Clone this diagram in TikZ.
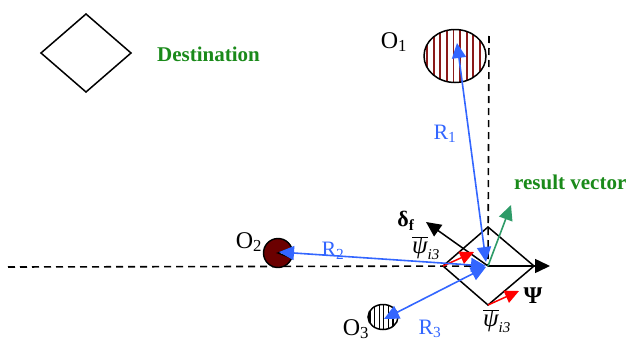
\documentclass[tikz,border=0pt]{standalone}
\usepackage{fontspec}
\setmainfont{Liberation Serif}
\usetikzlibrary{arrows.meta}
\definecolor{rblue}{HTML}{3366FF}
\definecolor{dgreen}{HTML}{1A8A1A}
\definecolor{sgreen}{HTML}{2E9B68}
\definecolor{maroonc}{HTML}{6B0000}
\definecolor{stripered}{HTML}{8B1A1A}
\newcommand{\psibar}{$\overline{\hbox{\itshape ψ}}_{\hbox{\fontsize{15}{16}\selectfont\itshape i3}}$}
\begin{document}
\begin{tikzpicture}[x=1pt,y=-1pt,
  blackline/.style={line width=1.5pt,black},
  dashline/.style={line width=1.6pt,black,dash pattern=on 7pt off 5pt},
  bigtip/.style={-{Triangle[length=15pt,width=14pt]}},
  dbltip/.style={{Triangle[length=15pt,width=14pt]}-{Triangle[length=15pt,width=14pt]}},
  bluevec/.style={line width=1.6pt,rblue,dbltip},
  redvec/.style={line width=1.5pt,red,-{Triangle[length=14pt,width=13pt]}},
  olabel/.style={font=\fontsize{24}{26}\selectfont},
  rlabel/.style={font=\fontsize{22}{24}\selectfont,text=rblue},
  glabel/.style={font=\fontsize{21}{23}\selectfont\bfseries,text=dgreen,anchor=west,inner sep=0pt},
  plabel/.style={font=\fontsize{25}{27}\selectfont,inner sep=0pt}]
\useasboundingbox (0,0) rectangle (629,343);

% coordinates
\coordinate (C) at (488,266);
\coordinate (hstart) at (8,267);
\coordinate (vstart) at (489,36);
\coordinate (O1c) at (455,56);
\coordinate (O2c) at (278,253);
\coordinate (O3c) at (383,317);
\coordinate (psitip) at (550,266);
\coordinate (deltatip) at (426,222);
\coordinate (restip) at (511,205);
\coordinate (R1a) at (486,262);
\coordinate (R1b) at (457,43);
\coordinate (R2a) at (486,266);
\coordinate (R2b) at (279,252);
\coordinate (R3a) at (486,267);
\coordinate (R3b) at (384,319);
\coordinate (dl) at (443,266);
\coordinate (dt) at (488,227);
\coordinate (dr) at (534,266);
\coordinate (db) at (488,305);
\coordinate (red1tip) at (474,252);
\coordinate (red2tip) at (519,291);

% destination diamond
\draw[blackline] (41,53) -- (86,14) -- (131,53) -- (86,92) -- cycle;
\node[glabel] (dest) at (157,54) {Destination};

% dashed reference lines
\draw[dashline] (hstart) -- (C);
\draw[dashline] (vstart) -- (C);

% obstacle O1 (striped ellipse)
\begin{scope}
  \clip (O1c) ellipse [x radius=31, y radius=26.5];
  \fill[white] (O1c) ellipse [x radius=31, y radius=26.5];
  \foreach \k in {0,...,9} {
    \draw[stripered,line width=1.8pt] (427+\k*6.6,25) -- (427+\k*6.6,90);
  }
\end{scope}
\draw[line width=1.5pt] (O1c) ellipse [x radius=31, y radius=26.5];
\node[olabel] (O1) at (394,42) {O\textsubscript{1}};

% obstacle O2 (filled disc with notch)
\filldraw[fill=maroonc,draw=black,line width=1.4pt]
  (O2c) -- ++(20:14.5) arc[start angle=20,end angle=340,radius=14.5] -- cycle;
\node[olabel] (O2) at (249,242) {O\textsubscript{2}};

% obstacle O3 (black striped ellipse)
\begin{scope}
  \clip (O3c) ellipse [x radius=15, y radius=12.5];
  \foreach \k in {0,...,6} {
    \draw[black,line width=1.2pt] (370+\k*4.6,300) -- (370+\k*4.6,335);
  }
\end{scope}
\draw[line width=1.5pt] (O3c) ellipse [x radius=15, y radius=12.5];
\node[olabel] (O3) at (356,329) {O\textsubscript{3}};

% robot diamond
\draw[blackline] (dl) -- (dt) -- (dr) -- (db) -- cycle;

% black vectors
\draw[blackline,bigtip] (C) -- (psitip);
\draw[blackline,bigtip] (C) -- (deltatip);
\node[font=\fontsize{22}{24}\selectfont\bfseries] (delta) at (406,221) {δ\textsubscript{f}};
\node[font=\fontsize{24}{26}\selectfont\bfseries] (Psi) at (533,296) {Ψ};

% result vector
\draw[line width=1.6pt,sgreen,bigtip] (C) -- (restip);
\node[glabel] (res) at (514,182) {result vector};

% red vectors
\draw[redvec] (dl) -- (red1tip);
\draw[redvec] (db) -- (red2tip);
\node[plabel] (psi1) at (426,248) {\psibar};
\node[plabel] (psi2) at (497,321) {\psibar};

% distance vectors
\draw[bluevec] (R1a) -- (R1b);
\draw[bluevec] (R2a) -- (R2b);
\draw[bluevec] (R3a) -- (R3b);
\node[rlabel] (R1) at (445,134) {R\textsubscript{1}};
\node[rlabel] (R2) at (333,251) {R\textsubscript{2}};
\node[rlabel] (R3) at (430,329) {R\textsubscript{3}};
\end{tikzpicture}
\end{document}
